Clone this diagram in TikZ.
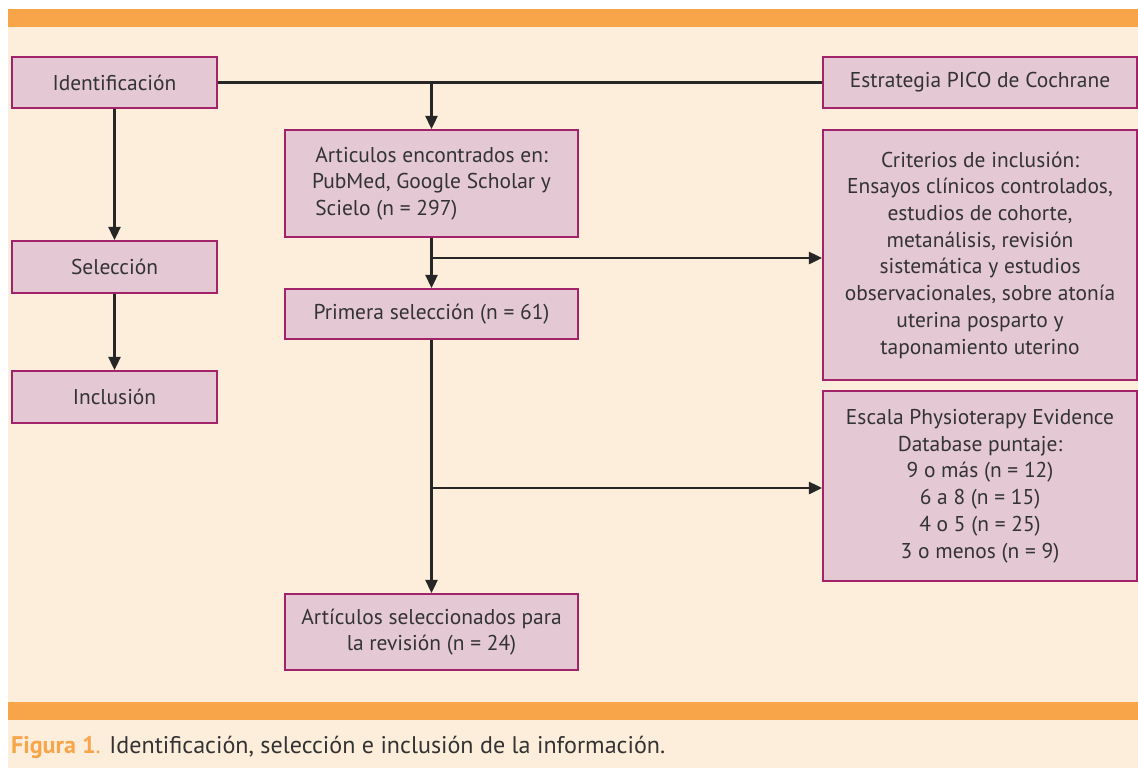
\documentclass[tikz,border=0pt]{standalone}
\usepackage{fontspec}
\setmainfont{PT Sans}
\usetikzlibrary{arrows.meta}

\definecolor{barorange}{HTML}{F8A449}
\definecolor{peach}{HTML}{FDEEDC}
\definecolor{boxfill}{HTML}{E4C8D3}
\definecolor{boxline}{HTML}{A3236B}
\definecolor{textgray}{HTML}{333333}

\begin{document}
\begin{tikzpicture}[x=0.02cm, y=-0.02cm, line width=1.2pt,
    box/.style={draw=boxline, line width=1.2pt, fill=boxfill, text=textgray,
      align=center, inner sep=0pt,
      font=\fontsize{12.2}{15.2}\selectfont},
    flow/.style={-{Triangle[length=7.5pt, width=7pt]}, draw=black!85}]
        % Page and bars
        \useasboundingbox (0,0) rectangle (1138,768);
        \fill[white] (0,0) rectangle (1138,768);
        \fill[peach] (8,9) rectangle (1138,768);
        \fill[barorange] (8,9) rectangle (1138,27);
        \fill[barorange] (8,702) rectangle (1138,720);

        % Left column
        \node[box, minimum width=4.1cm, minimum height=1.02cm] (ident) at (114.5,82.5) {Identificación};
        \node[box, minimum width=4.1cm, minimum height=1.04cm] (selec) at (114.5,267) {Selección};
        \node[box, minimum width=4.1cm, minimum height=1.04cm] (inclu) at (114.5,397) {Inclusión};

        % Middle column
        \node[box, minimum width=5.86cm, minimum height=2.14cm] (found) at (431.5,183.5)
            {Articulos encontrados en:\\PubMed, Google Scholar y\\\rlap{Scielo (n = 297)}\phantom{Articulos encontrados en:}};
        \node[box, minimum width=5.86cm, minimum height=1.0cm] (first) at (431.5,314) {Primera selección (n = 61)};
        \node[box, minimum width=5.86cm, minimum height=1.52cm] (final) at (431.5,632)
            {Artículos seleccionados para\\la revisión (n = 24)};

        % Right column
        \node[box, minimum width=6.28cm, minimum height=1.02cm] (pico) at (980,82.5) {Estrategia PICO de Cochrane};
        \node[box, minimum width=6.28cm, minimum height=5.0cm] (crit) at (980,255)
            {Criterios de inclusión:\\Ensayos clínicos controlados,\\estudios de cohorte,\\metanálisis, revisión\\sistemática y estudios\\observacionales, sobre atonía\\uterina posparto y\\taponamiento uterino};
        \node[box, minimum width=6.28cm, minimum height=3.8cm] (pedro) at (980,486)
            {Escala Physioterapy Evidence\\Database puntaje:\\9 o más (n = 12)\\6 a 8 (n = 15)\\4 o 5 (n = 25)\\3 o menos (n = 9)};

        % Connectors
        \draw[draw=black!85] (ident.east) -- (pico.west);
        \coordinate (split) at (found.north |- ident.east);
        \draw[flow] (split) -- (found.north);
        \draw[flow] (ident) -- (selec);
        \draw[flow] (selec) -- (inclu);
        \draw[flow] (found) -- (first);
        \coordinate (tocrit) at (found.south |- 0,258);
        \draw[flow] (tocrit) -- (tocrit -| crit.west);
        \draw[flow] (first) -- (final);
        \coordinate (topedro) at (first.south |- 0,488);
        \draw[flow] (topedro) -- (topedro -| pedro.west);

        % Caption
        \node[anchor=base west, inner sep=0pt, text=textgray, font=\fontsize{13.7}{16}\selectfont] (caption) at (10,753)
            {\textcolor{barorange}{\textbf{Figura 1}.} Identificación, selección e inclusión de la información.};
\end{tikzpicture}
\end{document}
